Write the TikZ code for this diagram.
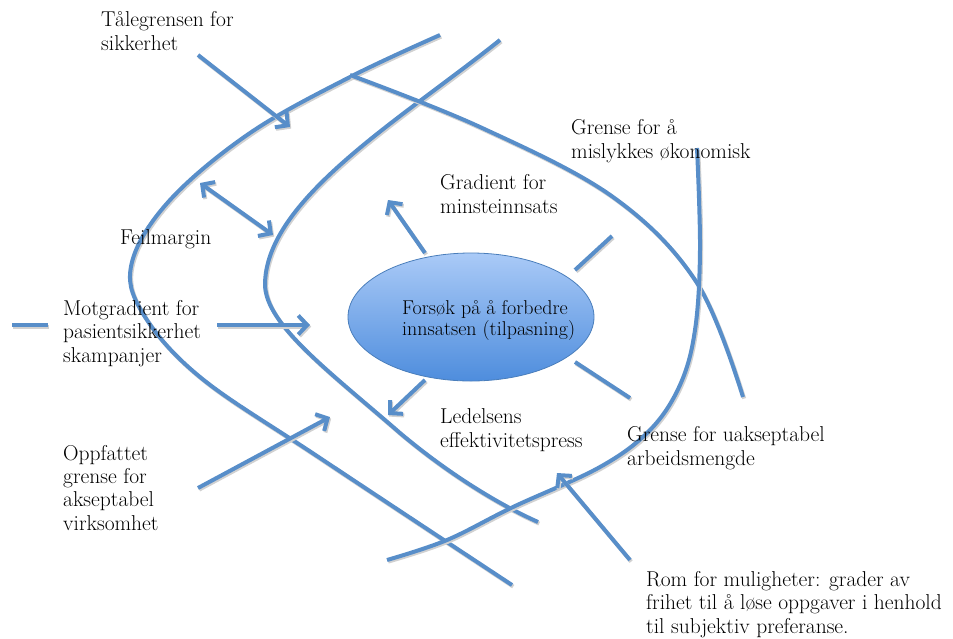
\documentclass[tikz,border=0pt]{standalone}
\usepackage{tikz}
\usetikzlibrary{arrows.meta, positioning, shadows, shapes.geometric}
\definecolor{linjeblaa}{RGB}{88,142,201}
\definecolor{elltopp}{RGB}{170,202,247}
\definecolor{ellbunn}{RGB}{78,141,221}
\definecolor{ellkant}{RGB}{74,126,187}

\begin{document}
\begin{tikzpicture}[
        x=1pt, y=-1pt,
        grense/.style={
            draw=linjeblaa,
            line width=4pt,
            preaction={draw=black!18, line width=4pt, transform canvas={shift={(1.2pt,-1.6pt)}}}
        },
        pil/.style={
            grense,
            -{Straight Barb[length=9pt, width=19pt]}
        },
        dobbelpil/.style={
            grense,
            {Straight Barb[length=9pt, width=19pt]}-{Straight Barb[length=9pt, width=19pt]}
        },
        etikett/.style={
            anchor=base west,
            inner sep=0pt,
            align=left,
            font=\fontsize{21.5}{23.3}\selectfont
        }
    ]
    \useasboundingbox (0,0) rectangle (953,638);

    % grensene
    \draw[grense] plot[smooth, tension=0.6] coordinates {(440,35) (350,77) (250,133) (170,200) (132,262) (142,312) (200,377) (320,458) (512,585)};
    \draw[grense] (500,40) .. controls (400,120) and (265,200) .. (265,285)
        .. controls (266,325) and (330,372) .. (400,433)
        .. controls (450,475) and (500,505) .. (538,522);
    \draw[grense] plot[smooth, tension=0.6] coordinates {(350,75) (480,127) (613,197) (697,283) (743,397)};
    \draw[grense] plot[smooth, tension=0.6] coordinates {(697,148) (700,250) (695,330) (680,385) (650,430) (600,467) (513,507) (447,540) (387,560)};

    % tilpasningen i midten
    \node[ellipse, draw=ellkant, line width=0.8pt, top color=elltopp, bottom color=ellbunn,
          minimum width=246pt, minimum height=128pt, inner sep=0pt] (forsok) at (471,317) {};
    \node[etikett, font=\fontsize{20}{21}\selectfont] (forsoktekst) at (402,335) {Forsøk på å forbedre\\innsatsen (tilpasning)};

    \node[etikett] (tale) at (101,50) {Tålegrensen for\\sikkerhet};
    \node[etikett] (gradient) at (440,213) {Gradient for\\minsteinnsats};
    \node[etikett] (okonomi) at (571,158) {Grense for å\\mislykkes økonomisk};
    \node[etikett] (feil) at (120,244) {Feilmargin};
    \node[etikett] (mot) at (63,362) {Motgradient for\\pasientsikkerhet\\skampanjer};
    \node[etikett] (oppfattet) at (63,530) {Oppfattet\\grense for\\akseptabel\\virksomhet};
    \node[etikett] (ledelse) at (440,447) {Ledelsens\\effektivitetspress};
    \node[etikett] (arbeid) at (627,465) {Grense for uakseptabel\\arbeidsmengde};
    \node[etikett] (rom) at (646,633) {Rom for muligheter: grader av\\frihet til å løse oppgaver i henhold\\til subjektiv preferanse.};

    % endepunkter for pilene
    \coordinate (tale1) at (198,55);   \coordinate (tale2) at (290,127);
    \coordinate (feil1) at (200,183);  \coordinate (feil2) at (273,235);
    \coordinate (grad1) at (425,253);  \coordinate (grad2) at (388,200);
    \coordinate (mot0) at (12,325);    \coordinate (mot1) at (48,325);
    \coordinate (mot2) at (217,325);   \coordinate (mot3) at (310,325);
    \coordinate (oppf1) at (198,488);  \coordinate (oppf2) at (330,417);
    \coordinate (led1) at (425,380);   \coordinate (led2) at (388,415);
    \coordinate (rom1) at (630,560);   \coordinate (rom2) at (557,473);
    \coordinate (stub1) at (575,270);  \coordinate (stub2) at (612,236);
    \coordinate (stub3) at (575,362);  \coordinate (stub4) at (630,398);

    \draw[pil] (tale1) -- (tale2);
    \draw[dobbelpil] (feil1) -- (feil2);
    \draw[pil] (grad1) -- (grad2);
    \draw[grense] (mot0) -- (mot1);
    \draw[pil] (mot2) -- (mot3);
    \draw[pil] (oppf1) -- (oppf2);
    \draw[pil] (led1) -- (led2);
    \draw[pil] (rom1) -- (rom2);
    \draw[grense] (stub1) -- (stub2);
    \draw[grense] (stub3) -- (stub4);

\end{tikzpicture}
\end{document}
